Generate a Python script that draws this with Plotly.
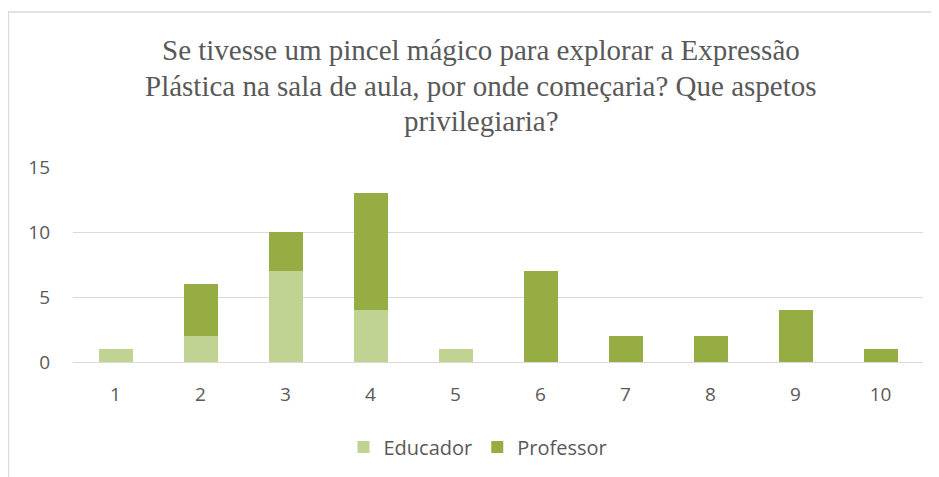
import plotly.graph_objects as go

categories = ["1", "2", "3", "4", "5", "6", "7", "8", "9", "10"]
educador = [1, 2, 7, 4, 1, 0, 0, 0, 0, 0]
professor = [0, 4, 3, 9, 0, 7, 2, 2, 4, 1]
y_ticks = [0, 5, 10, 15]
title_lines = ["Se tivesse um pincel mágico para explorar a Expressão",
               "Plástica na sala de aula, por onde começaria? Que aspetos",
               "privilegiaria?"]

# page draws the figure 8px in from the window corner
OFF = 8
W, H = 939, 477
ML, MR, MT, MB = 65, 24, 159, 123
pw = W - ML - MR
ph = H - MT - MB

def px_x(x):  # screen x -> paper
    return (x - OFF - ML) / pw

def px_y(y):  # screen y -> paper
    return (H - MB - (y - OFF)) / ph

fig = go.Figure()
fig.add_trace(go.Bar(x=categories, y=educador, name="Educador",
                     marker=dict(color="#C0D392", line=dict(width=0))))
fig.add_trace(go.Bar(x=categories, y=professor, name="Professor",
                     marker=dict(color="#95AD42", line=dict(width=0))))

title_y = [50, 86, 121]
annotations = [
    dict(text=t, xref="paper", yref="paper", x=px_x(481), y=px_y(yy),
         xanchor="center", yanchor="middle", showarrow=False,
         font=dict(family="Liberation Serif", size=29, color="#595959"))
    for t, yy in zip(title_lines, title_y)
]

fig.update_layout(
    width=W, height=H,
    barmode="stack", bargap=0.6,
    margin=dict(l=ML, r=MR, t=MT, b=MB),
    paper_bgcolor="white", plot_bgcolor="white",
    font=dict(family="Open Sans", size=19, color="#595959"),
    showlegend=True,
    legend=dict(orientation="h", x=px_x(478), xanchor="center", y=px_y(447), yanchor="middle",
                font=dict(size=20, color="#595959"), traceorder="normal",
                itemwidth=30),
    xaxis=dict(type="category", showgrid=False, showline=False, ticks="",
               ticklabelstandoff=19, tickfont=dict(size=19, color="#595959")),
    yaxis=dict(range=[0, 15], tickvals=y_ticks, showgrid=True, gridcolor="#D9D9D9",
               gridwidth=1.3, zeroline=True, zerolinecolor="#D9D9D9", zerolinewidth=1.3,
               showline=False, ticks="", ticklabelstandoff=22,
               tickfont=dict(size=19, color="#595959")),
    annotations=annotations,
    shapes=[
        dict(type="rect", xref="paper", yref="paper",
             x0=px_x(8.5), x1=px_x(980), y0=px_y(520), y1=px_y(12),
             line=dict(color="#D9D9D9", width=1.3), fillcolor="rgba(0,0,0,0)", layer="below"),
    ],
)

fig.write_html("out.html")
